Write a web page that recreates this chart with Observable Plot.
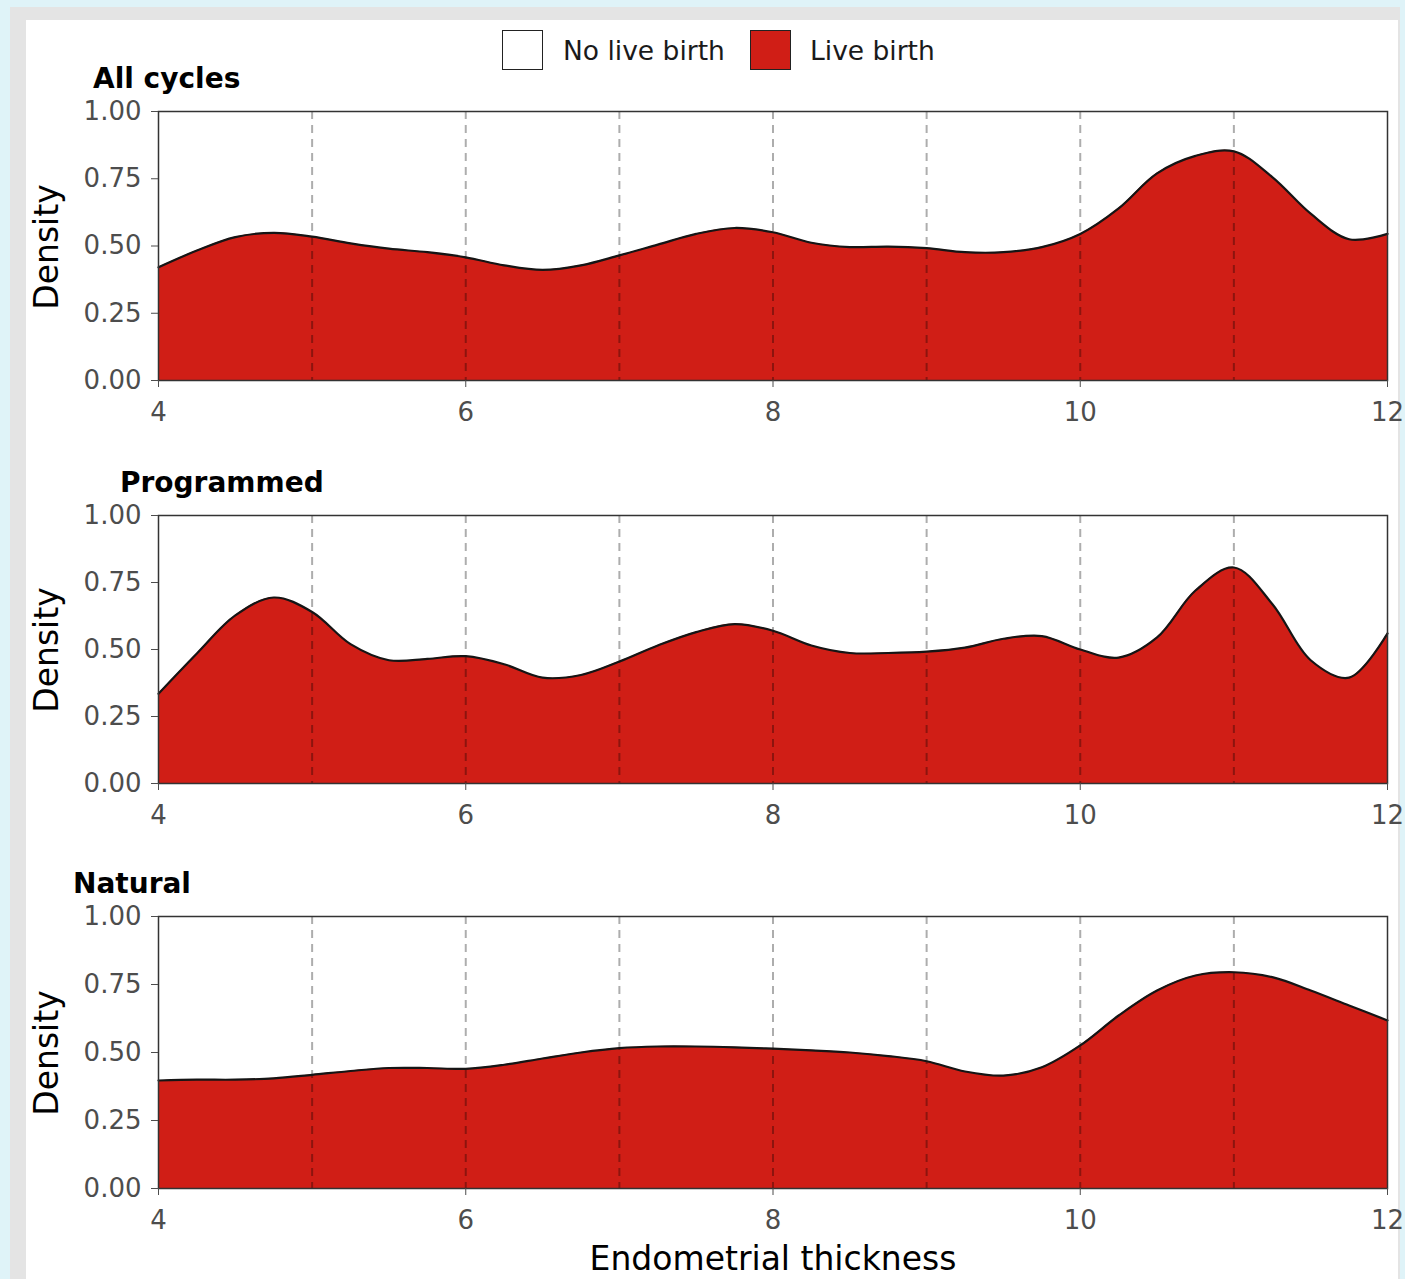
<!DOCTYPE html>
<html>
<head>
<meta charset="utf-8">
<script src="https://cdn.jsdelivr.net/npm/d3@7"></script>
<script src="https://cdn.jsdelivr.net/npm/@observablehq/plot@0.6"></script>
<style>
  html, body { margin: 0; padding: 0; }
  body { width: 1405px; height: 1279px; background: #dff3f8; position: relative; overflow: hidden; font-family: "DejaVu Sans", sans-serif; }
  #grey { position: absolute; left: 10px; top: 7px; right: 5px; bottom: 0; background: #e4e4e4; }
  #white { position: absolute; left: 26px; top: 20px; right: 7px; bottom: 0; background: #ffffff; }
  .abs { position: absolute; }
  .title { position: absolute; font-weight: bold; font-size: 28px; color: #000; line-height: 1; white-space: nowrap; }
  .ylab { position: absolute; font-size: 33px; color: #000; white-space: nowrap; transform: translate(-50%, -50%) rotate(-90deg); line-height: 1; }
  .xlab { position: absolute; font-size: 33px; color: #000; white-space: nowrap; transform: translate(-50%, -50%); line-height: 1; }
  .key { position: absolute; width: 39px; height: 38px; border: 1.5px solid #222; }
  .keytext { position: absolute; font-size: 26.5px; color: #1a1a1a; white-space: nowrap; transform: translateY(-50%); line-height: 1; }
</style>
</head>
<body>
<div id="grey"></div>
<div id="white"></div>
<div id="root"></div>
<script>
// ---- data ----
const thickness = [4, 4.25, 4.5, 4.75, 5, 5.25, 5.5, 5.75, 6, 6.25, 6.5, 6.75, 7, 7.25, 7.5, 7.75, 8,
                   8.25, 8.5, 8.75, 9, 9.25, 9.5, 9.75, 10, 10.25, 10.5, 10.75, 11, 11.25, 11.5, 11.75, 12];
const allCycles = [0.421, 0.483, 0.533, 0.549, 0.535, 0.51, 0.49, 0.477, 0.458, 0.428, 0.411, 0.428, 0.465,
                   0.505, 0.545, 0.567, 0.551, 0.512, 0.496, 0.498, 0.492, 0.477, 0.477, 0.496, 0.545,
                   0.64, 0.77, 0.835, 0.852, 0.756, 0.62, 0.525, 0.545];
const programmed = [0.335, 0.485, 0.627, 0.694, 0.64, 0.52, 0.46, 0.465, 0.475, 0.445, 0.395, 0.405, 0.455,
                    0.515, 0.565, 0.595, 0.57, 0.515, 0.487, 0.487, 0.492, 0.507, 0.54, 0.55, 0.5,
                    0.47, 0.545, 0.72, 0.806, 0.67, 0.46, 0.395, 0.56];
const natural = [0.397, 0.40, 0.40, 0.405, 0.418, 0.432, 0.443, 0.443, 0.44, 0.455, 0.478, 0.5, 0.516,
                 0.522, 0.522, 0.519, 0.514, 0.508, 0.5, 0.487, 0.468, 0.43, 0.415, 0.446, 0.526,
                 0.636, 0.728, 0.783, 0.795, 0.777, 0.728, 0.673, 0.618];
const panelTitles = ["All cycles", "Programmed", "Natural"];
const legendLabels = ["No live birth", "Live birth"];
const xTicks = [4, 6, 8, 10, 12];
const yTicks = [0, 0.25, 0.5, 0.75, 1];
const guideLines = [5, 6, 7, 8, 9, 10, 11];
const xTitle = "Endometrial thickness";
const yTitle = "Density";

// ---- layout ----
const RED = "#d01e16";
const panels = [
  {values: allCycles, top: 100, inner: 269, titleX: 93, titleY: 80},
  {values: programmed, top: 504, inner: 268, titleX: 120, titleY: 484},
  {values: natural, top: 905, inner: 272, titleX: 73, titleY: 885}
];
const root = document.getElementById("root");

panels.forEach((p, i) => {
  const data = thickness.map((x, k) => ({x, y: p.values[k]}));
  const mt = 11, mb = 50;
  const chart = Plot.plot({
    width: 1405,
    height: mt + p.inner + mb,
    marginLeft: 158,
    marginRight: 18,
    marginTop: mt,
    marginBottom: mb,
    style: {fontFamily: "DejaVu Sans", fontSize: "26px", background: "transparent", overflow: "visible"},
    x: {domain: [4, 12], axis: null},
    y: {domain: [0, 1], axis: null},
    marks: [
      Plot.areaY(data, {x: "x", y: "y", fill: RED, curve: "catmull-rom"}),
      Plot.ruleX(guideLines, {stroke: "#000", strokeOpacity: 0.32, strokeWidth: 2, strokeDasharray: "8,6"}),
      Plot.lineY(data, {x: "x", y: "y", stroke: "#151515", strokeWidth: 2.2, curve: "catmull-rom"}),
      Plot.frame({stroke: "#333", strokeWidth: 1.5}),
      Plot.axisX({ticks: xTicks, tickSize: 7, tickPadding: 15, label: null, color: "#4d4d4d", fontSize: 26}),
      Plot.axisY({ticks: yTicks, tickFormat: d3.format(".2f"), tickSize: 7, tickPadding: 10, label: null, color: "#4d4d4d", fontSize: 26})
    ]
  });
  const wrap = document.createElement("div");
  wrap.className = "abs";
  wrap.style.left = "0px";
  wrap.style.top = p.top + "px";
  wrap.appendChild(chart);
  root.appendChild(wrap);

  const t = document.createElement("div");
  t.className = "title";
  t.textContent = panelTitles[i];
  t.style.left = p.titleX + "px";
  t.style.top = (p.titleY - 15) + "px";
  root.appendChild(t);

  const yl = document.createElement("div");
  yl.className = "ylab";
  yl.textContent = yTitle;
  yl.style.left = "46px";
  yl.style.top = (p.top + mt + p.inner / 2 + 1) + "px";
  root.appendChild(yl);
});

// x title
const xl = document.createElement("div");
xl.className = "xlab";
xl.textContent = xTitle;
xl.style.left = "773px";
xl.style.top = "1258px";
root.appendChild(xl);

// legend
const keys = [{x: 502, fill: "#ffffff", tx: 563}, {x: 750, fill: RED, tx: 810}];
keys.forEach((k, i) => {
  const box = document.createElement("div");
  box.className = "key";
  box.style.left = k.x + "px";
  box.style.top = "30px";
  box.style.background = k.fill;
  root.appendChild(box);
  const tx = document.createElement("div");
  tx.className = "keytext";
  tx.textContent = legendLabels[i];
  tx.style.left = k.tx + "px";
  tx.style.top = "51px";
  root.appendChild(tx);
});
</script>
</body>
</html>
